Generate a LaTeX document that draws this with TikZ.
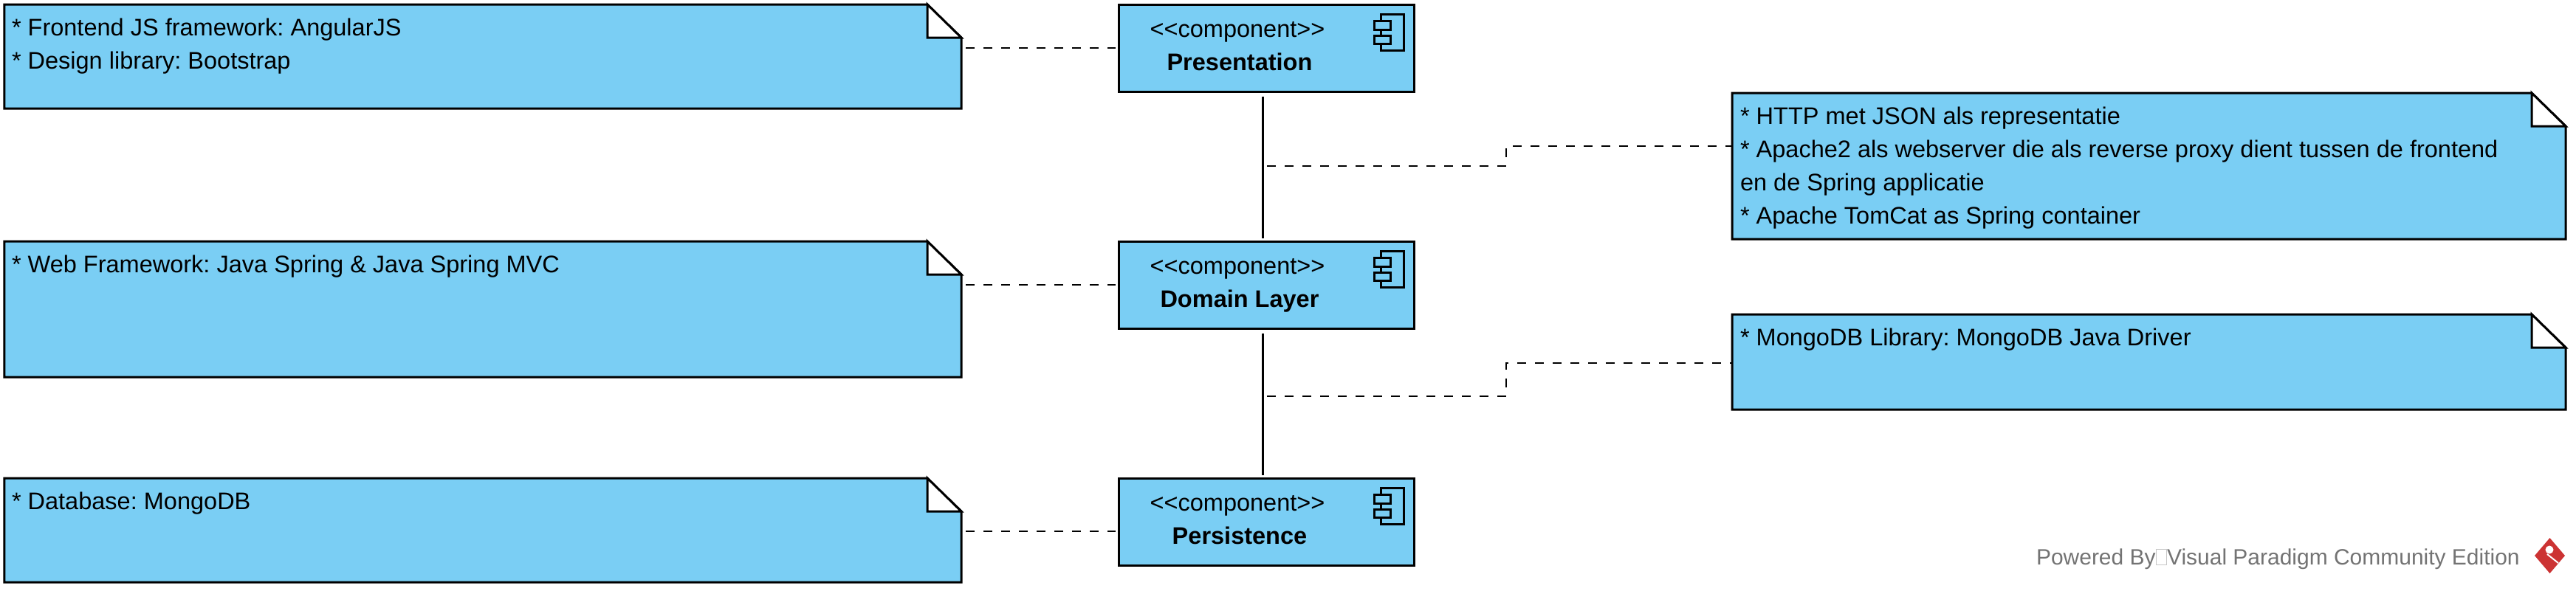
\documentclass[tikz,border=0pt]{standalone}
\usepackage{fontspec}
\setmainfont{Liberation Sans}
\usetikzlibrary{fit}
\frenchspacing
\definecolor{notefill}{HTML}{7ACEF4}
\definecolor{poweredgray}{HTML}{737373}
\definecolor{logored}{HTML}{CC3333}
\tikzset{
    uml/.style={line width=0.03cm, draw=black, fill=notefill},
    comp/.style={uml, rectangle, minimum width=4cm, minimum height=1.18cm, inner sep=0pt},
    anchorbox/.style={rectangle, inner sep=0pt, outer sep=0pt},
    txt/.style={font=\fontsize{9.25}{12.8}\selectfont, inner sep=0pt, outer sep=0pt},
    compname/.style={txt, anchor=base, font=\fontsize{9.25}{12.8}\selectfont\bfseries},
    stereo/.style={txt, anchor=base},
    link/.style={line width=0.027cm},
    dep/.style={line width=0.027cm, dash pattern=on 0.12cm off 0.12cm},
}
% kern keeps the font from joining the two brackets
\newcommand{\stereotype}[1]{<\kern0pt<#1>\kern0pt>}
% note with folded corner, #1 is the name, #2 the lower left and #3 the upper right corner
\newcommand{\umlnote}[3]{
    \path #2 coordinate (#1SW) #3 coordinate (#1NE);
    \node[anchorbox, fit=(#1SW)(#1NE)] (#1) {};
    \draw[uml] (#1SW) -- (#1SW |- #1NE) -- ([xshift=-0.46cm]#1NE) -- ([yshift=-0.45cm]#1NE)
        -- (#1NE |- #1SW) -- cycle;
    \draw[uml, fill=white] ([xshift=-0.46cm]#1NE) -- ([yshift=-0.45cm]#1NE)
        -- ([xshift=-0.46cm, yshift=-0.45cm]#1NE) -- cycle;
}
% component icon in the upper right of a box
\newcommand{\compicon}[1]{
    \draw[line width=0.025cm] ([xshift=-0.46cm, yshift=-0.15cm]#1.north east) rectangle ([xshift=-0.15cm, yshift=-0.64cm]#1.north east);
    \draw[uml, line width=0.025cm] ([xshift=-0.55cm, yshift=-0.24cm]#1.north east) rectangle ([xshift=-0.33cm, yshift=-0.36cm]#1.north east);
    \draw[uml, line width=0.025cm] ([xshift=-0.55cm, yshift=-0.44cm]#1.north east) rectangle ([xshift=-0.33cm, yshift=-0.55cm]#1.north east);
}
\begin{document}
\begin{tikzpicture}

    \useasboundingbox (0,0) rectangle (34.89,8.04);

    % Components
    \node[comp] at (17.15,7.39) (Presentation) {};
    \node[comp] at (17.15,4.18) (Domain) {};
    \node[comp] at (17.15,0.97) (Persistence) {};

    \node[stereo] at (16.76,7.54) (PresentationStereo) {\stereotype{component}};
    \node[compname] at (16.79,7.09) (PresentationName) {Presentation};
    \node[stereo] at (16.76,4.33) (DomainStereo) {\stereotype{component}};
    \node[compname] at (16.79,3.88) (DomainName) {Domain Layer};
    \node[stereo] at (16.76,1.12) (PersistenceStereo) {\stereotype{component}};
    \node[compname] at (16.79,0.67) (PersistenceName) {Persistence};

    \compicon{Presentation}
    \compicon{Domain}
    \compicon{Persistence}

    % Notes
    \umlnote{NoteFrontend}{(0.06,6.57)}{(13.02,7.98)}
    \umlnote{NoteWeb}{(0.06,2.93)}{(13.02,4.77)}
    \umlnote{NoteDatabase}{(0.06,0.15)}{(13.02,1.56)}
    \umlnote{NoteHttp}{(23.46,4.80)}{(34.75,6.78)}
    \umlnote{NoteMongo}{(23.46,2.49)}{(34.75,3.78)}

    % Note texts
    \node[txt, anchor=north west, align=left] at (0.16,7.79) (TextFrontend) {* Frontend JS framework: AngularJS\\* Design library: Bootstrap};
    \node[txt, anchor=north west, align=left] at (0.16,4.58) (TextWeb) {* Web Framework: Java Spring \& Java Spring MVC};
    \node[txt, anchor=north west, align=left] at (0.16,1.37) (TextDatabase) {* Database: MongoDB};
    \node[txt, anchor=north west, align=left] at (23.57,6.59) (TextHttp) {* HTTP met JSON als representatie\\* Apache2 als webserver die als reverse proxy dient tussen de frontend\\en de Spring applicatie\\* Apache TomCat as Spring container};
    \node[txt, anchor=north west, align=left] at (23.57,3.59) (TextMongo) {* MongoDB Library: MongoDB Java Driver};

    % Lines
    \draw[link, shorten <=0.05cm, shorten >=0.03cm] ([xshift=-0.045cm]Presentation.south) -- ([xshift=-0.045cm]Domain.north);
    \draw[link, shorten <=0.05cm, shorten >=0.03cm] ([xshift=-0.045cm]Domain.south) -- ([xshift=-0.045cm]Persistence.north);

    % Dashed lines
    \draw[dep, shorten <=0.06cm, shorten >=0.03cm] (NoteFrontend.east |- Presentation.west) -- (Presentation.west);
    \draw[dep, shorten <=0.06cm, shorten >=0.03cm] (NoteWeb.east |- Domain.west) -- (Domain.west);
    \draw[dep, shorten <=0.06cm, shorten >=0.03cm] ([yshift=-0.015cm]NoteDatabase.east) -- ([yshift=-0.015cm]NoteDatabase.east -| Persistence.west);

    \coordinate (LinkHttp) at (17.16,5.79);
    \coordinate (BendHttp) at (20.40,5.79);
    \coordinate (BendHttpTop) at (20.40,6.06);
    \draw[dep] (LinkHttp) -- (BendHttp) -- (BendHttpTop) -- (NoteHttp.west |- BendHttpTop);

    \coordinate (LinkMongo) at (17.16,2.67);
    \coordinate (BendMongo) at (20.40,2.67);
    \coordinate (BendMongoTop) at (20.40,3.12);
    \draw[dep] (LinkMongo) -- (BendMongo) -- (BendMongoTop) -- (NoteMongo.west |- BendMongoTop);

    % Watermark
    \node[txt, anchor=base west, text=poweredgray, font=\fontsize{8.53}{10}\selectfont] at (27.58,0.39) (Powered) {Powered By{\color{poweredgray!40}\fboxrule=0.2pt\fboxsep=0pt\fbox{\vphantom{H}\hspace{0.14cm}}}Visual Paradigm Community Edition};
    \fill[logored] (34.33,0.51) -- (34.535,0.75) -- (34.74,0.51) -- (34.535,0.27) -- cycle;
    \fill[white] (34.53,0.59) circle (0.055);
    \draw[white, line width=0.02cm] (34.50,0.53) -- (34.65,0.41);

\end{tikzpicture}
\end{document}
